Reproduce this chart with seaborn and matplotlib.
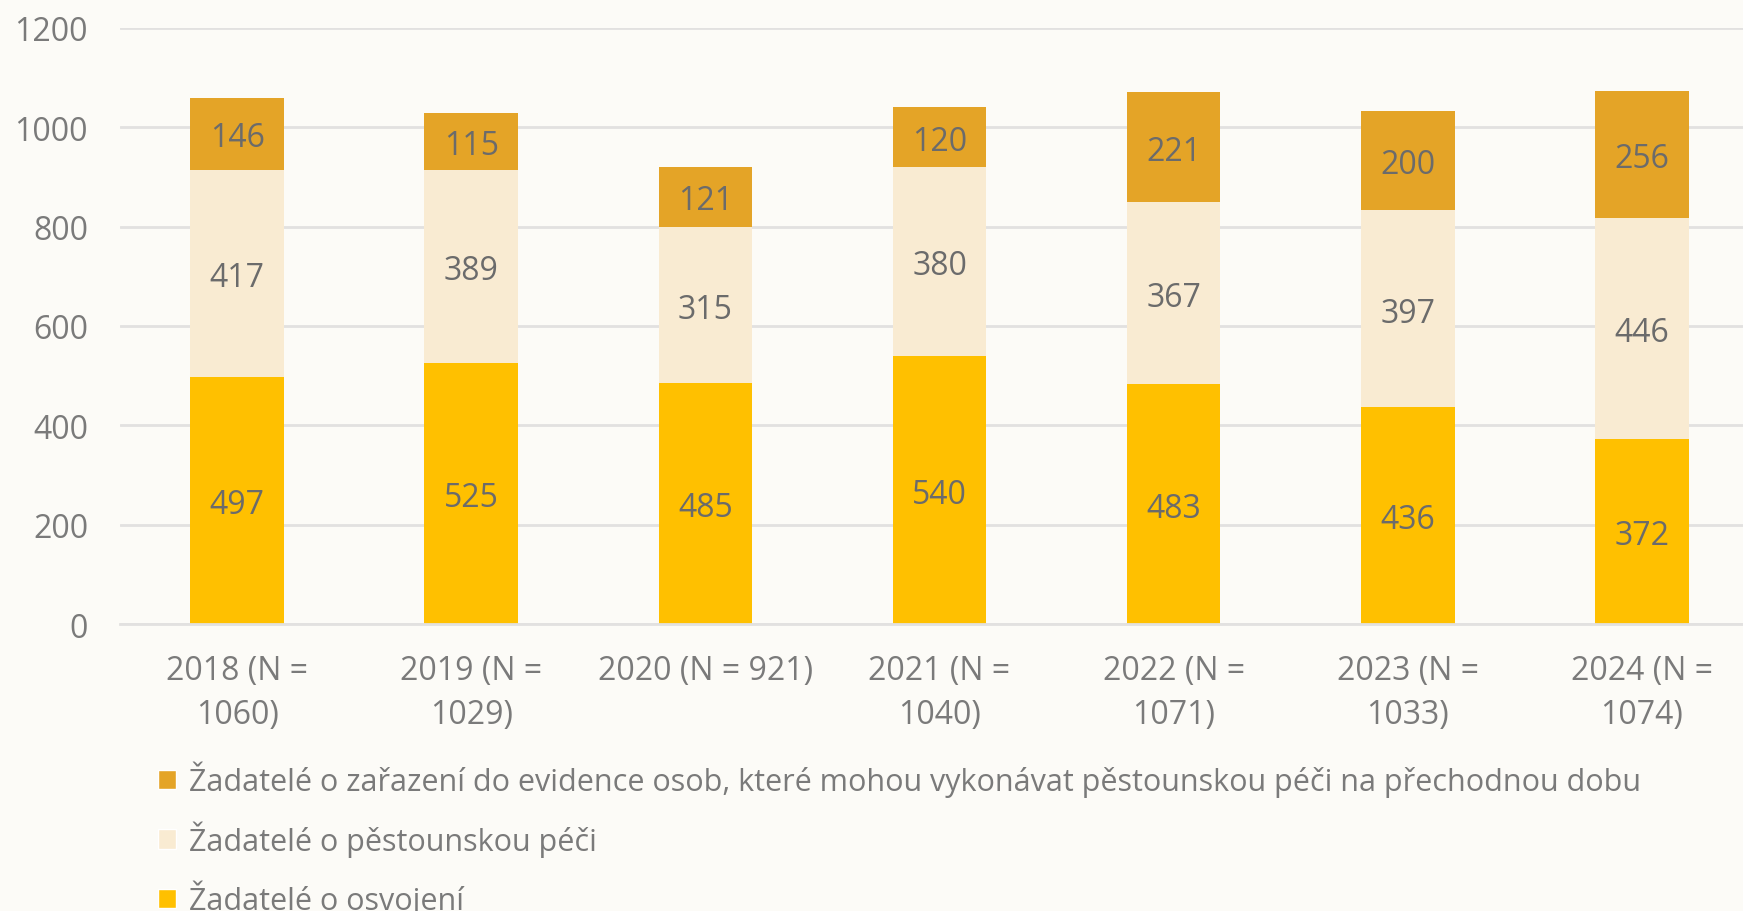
import matplotlib
matplotlib.use("Agg")
import matplotlib.pyplot as plt
from matplotlib.patches import Patch
import seaborn as sns
import numpy as np

years = ["2018 (N =\n1060)", "2019 (N =\n1029)", "2020 (N = 921)", "2021 (N =\n1040)",
         "2022 (N =\n1071)", "2023 (N =\n1033)", "2024 (N =\n1074)"]
osvojeni = [497, 525, 485, 540, 483, 436, 372]
pestounska = [417, 389, 315, 380, 367, 397, 446]
prechodna = [146, 115, 121, 120, 221, 200, 256]

series_names = [
    "Žadatelé o zařazení do evidence osob, které mohou vykonávat pěstounskou péči na přechodnou dobu",
    "Žadatelé o pěstounskou péči",
    "Žadatelé o osvojení",
]
colors = {"osv": "#FFC000", "pes": "#F9EBD2", "pre": "#E4A427"}

bg = "#FCFBF7"
txt = "#7A7A7A"
lbl = "#6B6B6B"

sns.set_theme(style="white")
plt.rcParams['font.family'] = ['Open Sans', 'DejaVu Sans']

fig = plt.figure(figsize=(17.43, 9.12), dpi=100, facecolor=bg)
ax = fig.add_axes([120/1743, 1-625/912, (1759-120)/1743, (625-29)/912])
ax.set_facecolor(bg)

osv = np.array(osvojeni)
pes = np.array(pestounska)
pre = np.array(prechodna)

kw = dict(width=0.4, ax=ax, saturation=1, order=years, linewidth=0)
sns.barplot(x=years, y=osv, color=colors["osv"], **kw)
sns.barplot(x=years, y=pes, bottom=osv, color=colors["pes"], **kw)
sns.barplot(x=years, y=pre, bottom=osv + pes, color=colors["pre"], **kw)

for cont in ax.containers:
    texts = ax.bar_label(cont, label_type="center", color=lbl, fontsize=23)
    for t in texts:
        t.xyann = (0, -3)

ax.set_ylim(0, 1200)
ax.set_xlim(-0.5, 6.5)
ax.set_yticks(range(0, 1201, 200))
ax.yaxis.grid(True, color="#E2E1E0", linewidth=2)
ax.set_axisbelow(True)
for s in ["top", "right", "left"]:
    ax.spines[s].set_visible(False)
ax.spines["bottom"].set_color("#E2E1E0")
ax.spines["bottom"].set_linewidth(2)
ax.tick_params(axis="y", labelsize=23, colors=txt, length=0, pad=23)
ax.tick_params(axis="x", labelsize=23, colors=txt, length=0, pad=21.5)
for t in ax.get_xticklabels():
    t.set_ha("center")
    t.set_multialignment("center")
    t.set_linespacing(1.45)
ax.set_xlabel("")
ax.set_ylabel("")

handles = [Patch(facecolor=colors["pre"]), Patch(facecolor=colors["pes"]), Patch(facecolor=colors["osv"])]
leg = fig.legend(handles, series_names, loc="upper left", bbox_to_anchor=(158/1743, 1-762/912),
                 frameon=False, fontsize=22, labelcolor=txt, handlelength=0.6, handleheight=0.6,
                 handletextpad=0.4, labelspacing=0.75, borderpad=0, borderaxespad=0)

fig.savefig("out.png", dpi=100, facecolor=bg)
